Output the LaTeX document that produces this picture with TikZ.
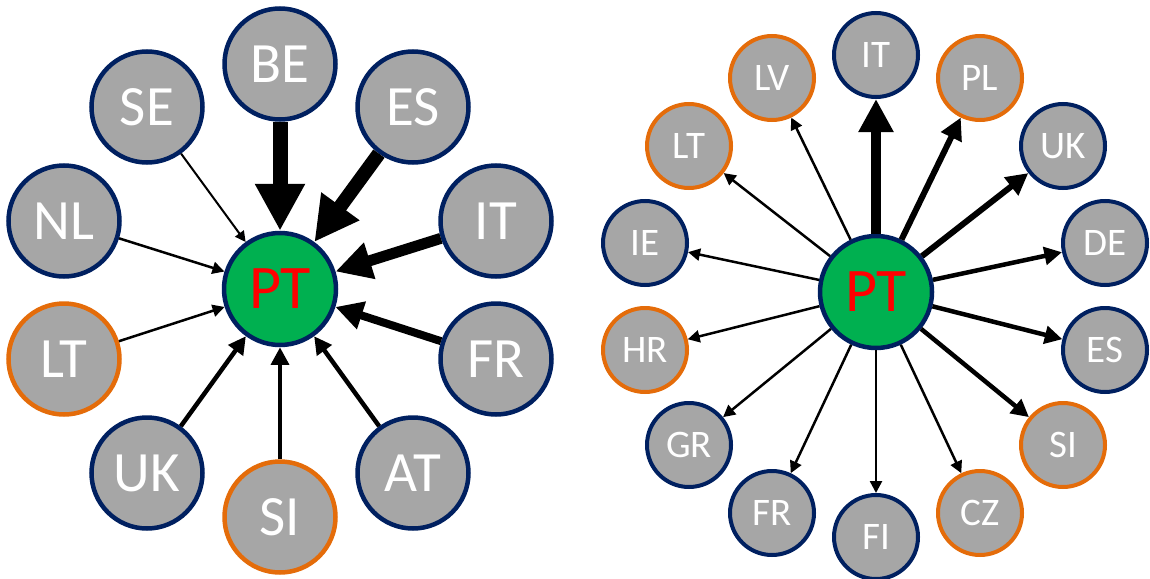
\documentclass[tikz,border=0pt]{standalone}
\usepackage{fontspec}
\setmainfont{Carlito}
\usetikzlibrary{arrows.meta}
\definecolor{navyline}{HTML}{002060}
\definecolor{orgline}{HTML}{E46C0A}
\definecolor{ctygray}{HTML}{A6A6A6}
\definecolor{hubgreen}{HTML}{00B050}
\tikzset{
	lcty/.style = {circle, draw = navyline, line width = 4.5pt, fill = ctygray, text = white, inner sep = 0pt, minimum size = 111pt, font = \fontsize{57}{57}\selectfont},
	rcty/.style = {circle, draw = navyline, line width = 4pt, fill = ctygray, text = white, inner sep = 0pt, minimum size = 84pt, font = \fontsize{39}{39}\selectfont},
	orng/.style = {draw = orgline},
	hub/.style = {circle, draw = navyline, line width = 4.5pt, fill = hubgreen, text = red, inner sep = 0pt, minimum size = 112pt, font = \fontsize{62}{62}\selectfont},
	flow/.style = {line width = #1pt, -{Triangle[length = 5pt 2.8, width = 5pt 2.8]}}
}

\begin{document}
\begin{tikzpicture}[x = 1pt, y = -1pt]
	\useasboundingbox (0,0) rectangle (1150,578);
	% left: flows into PT
	\node[hub] (lpt) at (280,289) {PT};
	\node[lcty] (lbe) at (280,64) {BE};
	\node[lcty] (les) at (413,107) {ES};
	\node[lcty] (lit) at (496,221) {IT};
	\node[lcty] (lfr) at (496,359) {FR};
	\node[lcty] (lat) at (413,473) {AT};
	\node[lcty, orng] (lsi) at (280,517) {SI};
	\node[lcty] (luk) at (147,473) {UK};
	\node[lcty, orng] (llt) at (64,359) {LT};
	\node[lcty] (lnl) at (64,221) {NL};
	\node[lcty] (lse) at (147,107) {SE};
	\draw[flow = 15] (lbe) -- (lpt);
	\draw[flow = 14] (les) -- (lpt);
	\draw[flow = 11] (lit) -- (lpt);
	\draw[flow = 8] (lfr) -- (lpt);
	\draw[flow = 4.5] (lat) -- (lpt);
	\draw[flow = 4.5] (lsi) -- (lpt);
	\draw[flow = 4.5] (luk) -- (lpt);
	\draw[flow = 2.5] (llt) -- (lpt);
	\draw[flow = 2.5] (lnl) -- (lpt);
	\draw[flow = 2] (lse) -- (lpt);
	% right: flows out of PT
	\node[hub] (rpt) at (876,292) {PT};
	\node[rcty] (rit) at (876,55) {IT};
	\node[rcty, orng] (rpl) at (980,78) {PL};
	\node[rcty] (ruk) at (1063,146) {UK};
	\node[rcty] (rde) at (1105,243) {DE};
	\node[rcty] (res) at (1105,350) {ES};
	\node[rcty, orng] (rsi) at (1063,445) {SI};
	\node[rcty, orng] (rcz) at (980,513) {CZ};
	\node[rcty] (rfi) at (876,537) {FI};
	\node[rcty] (rfr) at (772,513) {FR};
	\node[rcty] (rgr) at (689,445) {GR};
	\node[rcty, orng] (rhr) at (645,350) {HR};
	\node[rcty] (rie) at (645,243) {IE};
	\node[rcty, orng] (rlt) at (689,146) {LT};
	\node[rcty, orng] (rlv) at (772,78) {LV};
	\draw[flow = 10] (rpt) -- (rit);
	\draw[flow = 6] (rpt) -- (rpl);
	\draw[flow = 6] (rpt) -- (ruk);
	\draw[flow = 4.5] (rpt) -- (rde);
	\draw[flow = 4.5] (rpt) -- (res);
	\draw[flow = 4.5] (rpt) -- (rsi);
	\draw[flow = 2.5] (rpt) -- (rcz);
	\draw[flow = 2.5] (rpt) -- (rfi);
	\draw[flow = 2.5] (rpt) -- (rfr);
	\draw[flow = 2.5] (rpt) -- (rgr);
	\draw[flow = 2.5] (rpt) -- (rhr);
	\draw[flow = 2.5] (rpt) -- (rie);
	\draw[flow = 2.5] (rpt) -- (rlt);
	\draw[flow = 2.5] (rpt) -- (rlv);
\end{tikzpicture}
\end{document}
